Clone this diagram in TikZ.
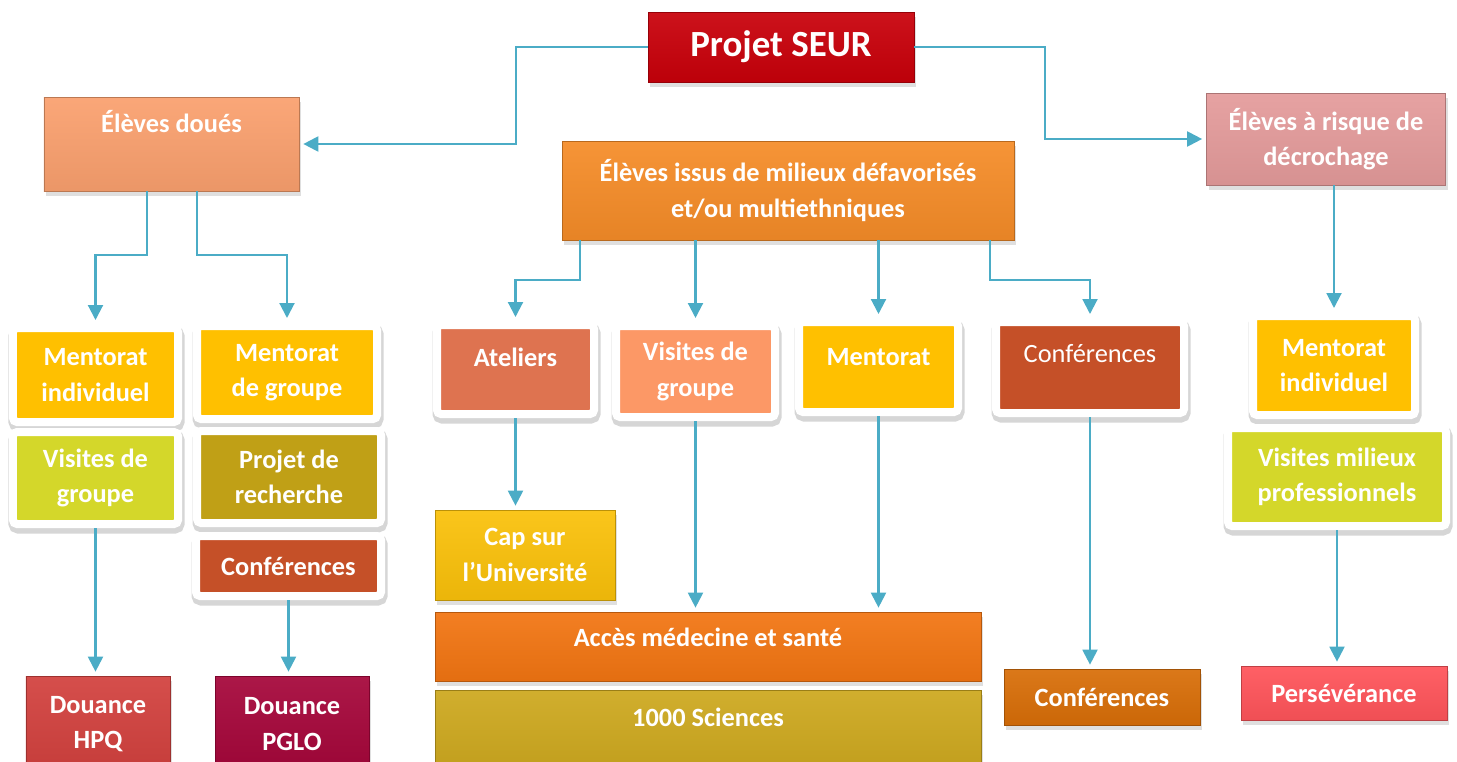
\documentclass[tikz,border=0pt]{standalone}
\usepackage{fontspec}
\setmainfont{Carlito}
\usepackage{tikz}
\usetikzlibrary{arrows.meta, shadows, positioning}

\definecolor{linkblue}{RGB}{75,172,198}
\definecolor{seurred}{RGB}{200,0,10}
\definecolor{douesorange}{RGB}{250,160,110}
\definecolor{issusorange}{RGB}{245,140,40}
\definecolor{risquepink}{RGB}{228,155,155}
\definecolor{mentgold}{RGB}{255,192,0}
\definecolor{visitlime}{RGB}{212,215,42}
\definecolor{projolive}{RGB}{192,160,22}
\definecolor{confrust}{RGB}{197,80,40}
\definecolor{atelcoral}{RGB}{222,115,80}
\definecolor{visitpeach}{RGB}{252,152,102}
\definecolor{capgold}{RGB}{250,193,10}
\definecolor{accesorange}{RGB}{242,117,18}
\definecolor{sciochre}{RGB}{205,168,30}
\definecolor{conforange}{RGB}{216,110,8}
\definecolor{persered}{RGB}{255,84,90}
\definecolor{hpqred}{RGB}{210,65,62}
\definecolor{pglowine}{RGB}{165,6,58}

\newcommand{\boxfont}{\fontsize{15}{20}\selectfont\bfseries}
\newcommand{\plainfont}{\fontsize{15}{20}\selectfont}
\newcommand{\titlefont}{\fontsize{21}{25}\selectfont\bfseries}

\tikzset{
bevel/.style={rectangle, inner sep=0pt, align=center, text=white, font=\boxfont, draw=#1!75!black, top color=#1!93!white, middle color=#1, bottom color=#1!94!black, drop shadow={opacity=0.25, shadow xshift=0.04cm, shadow yshift=-0.1cm}},
card/.style={rectangle, inner sep=0pt, align=center, text=white, font=\boxfont, fill=#1, draw=white, line width=0.16cm, rounded corners=0.08cm, preaction={draw=black!16, line width=0.22cm, transform canvas={xshift=0.02cm, yshift=-0.08cm}}}
}
\tikzstyle{arrow} = [line width=1.2pt, draw=linkblue, ->, >={Triangle[width=8.5pt,length=8.5pt]}, shorten >=0.08cm]

\begin{document}
\begin{tikzpicture}[node distance=2cm]
	\useasboundingbox (0,0) rectangle (29.14,-15.24);
	\clip (0,0) rectangle (29.14,-15.24);

	\node (seur) [bevel=seurred, minimum width=5.32cm, minimum height=1.40cm, font=\titlefont] at (15.62,-0.94) {Projet SEUR};
	\node (issus) [bevel=issusorange, minimum width=9.04cm, minimum height=1.98cm, below of=seur, xshift=0.14cm, yshift=-0.87cm] {Élèves issus de milieux défavorisés\\et/ou multiethniques};
	\node (doues) [bevel=douesorange, minimum width=5.10cm, text height=0.70cm, text depth=1.18cm, below of=seur, xshift=-12.19cm, yshift=0.06cm] {Élèves doués};
	\node (risque) [bevel=risquepink, minimum width=4.78cm, minimum height=1.84cm, below of=seur, xshift=10.9cm, yshift=0.16cm] {Élèves à risque de\\décrochage};

	% gifted students
	\node (mi1) [card=mentgold, minimum width=3.30cm, minimum height=1.88cm, below of=doues, xshift=-1.52cm, yshift=-2.62cm] {Mentorat\\individuel};
	\node (vg1) [card=visitlime, minimum width=3.30cm, minimum height=1.84cm, below of=mi1, yshift=-0.06cm] {Visites de\\groupe};
	\node (mg) [card=mentgold, minimum width=3.60cm, minimum height=1.86cm, right of=mi1, xshift=1.83cm, yshift=0.05cm] {Mentorat\\de groupe};
	\node (pr) [card=projolive, minimum width=3.68cm, minimum height=1.84cm, below of=mg, xshift=0.04cm, yshift=-0.09cm] {Projet de\\recherche};
	\node (conf1) [card=confrust, minimum width=3.70cm, minimum height=1.20cm, below of=pr, xshift=-0.01cm, yshift=0.22cm] {Conférences};
	\node (hpq) [bevel=hpqred, minimum width=2.88cm, minimum height=1.92cm, below of=vg1, xshift=0.05cm, yshift=-2.92cm] {Douance\\HPQ};
	\node (pglo) [bevel=pglowine, minimum width=3.08cm, minimum height=1.92cm, right of=hpq, xshift=1.88cm] {Douance\\PGLO};

	% disadvantaged students
	\node (atel) [card=atelcoral, minimum width=3.14cm, text height=0.82cm, text depth=0.96cm, below of=issus, xshift=-5.45cm, yshift=-1.58cm] {Ateliers};
	\node (vg2) [card=visitpeach, minimum width=3.18cm, minimum height=1.82cm, right of=atel, xshift=1.6cm, yshift=-0.04cm] {Visites de\\groupe};
	\node (ment) [card=mentgold, minimum width=3.18cm, text height=0.86cm, text depth=0.94cm, right of=vg2, xshift=1.66cm, yshift=0.09cm] {Mentorat};
	\node (conf2) [card=confrust, minimum width=3.76cm, text height=0.80cm, text depth=1.02cm, font=\plainfont, right of=ment, xshift=2.23cm, yshift=-0.01cm] {Conférences};
	\node (cap) [bevel=capgold, minimum width=3.60cm, minimum height=1.80cm, below of=atel, xshift=0.19cm, yshift=-1.71cm] {Cap sur\\l’Université};
	\node (acces) [bevel=accesorange, minimum width=10.92cm, text height=0.68cm, text depth=0.70cm, below of=vg2, xshift=0.25cm, yshift=-3.5cm] {Accès médecine et santé};
	\node (sci) [bevel=sciochre, minimum width=10.92cm, text height=0.72cm, text depth=0.98cm, below of=acces, yshift=0.28cm] {1000 Sciences};
	\node (conf3) [bevel=conforange, minimum width=3.92cm, minimum height=1.12cm, below of=conf2, xshift=0.24cm, yshift=-4.59cm] {Conférences};

	% students at risk
	\node (mi2) [card=mentgold, minimum width=3.24cm, minimum height=1.98cm, below of=risque, xshift=0.16cm, yshift=-2.53cm] {Mentorat\\individuel};
	\node (vmp) [card=visitlime, minimum width=4.36cm, minimum height=1.96cm, below of=mi2, xshift=0.06cm, yshift=-0.23cm] {Visites milieux\\professionnels};
	\node (perse) [bevel=persered, minimum width=4.12cm, minimum height=1.08cm, below of=vmp, xshift=0.14cm, yshift=-2.32cm] {Persévérance};

	\draw [arrow] (seur.west) -- ++(-2.64,0) |- (doues.east);
	\draw [arrow] (seur.east) -- ++(2.62,0) |- (risque.west);

	\draw [arrow] ([xshift=-0.49cm]doues.south) -- ++(0,-1.28) -| (mi1.north);
	\draw [arrow] ([xshift=0.51cm]doues.south) -- ++(0,-1.28) -| (mg.north);
	\draw [arrow] (vg1.south) -- (vg1.south |- hpq.north);
	\draw [arrow] (conf1.south) -- (conf1.south |- pglo.north);

	\draw [arrow] ([xshift=-4.16cm]issus.south) -- ++(0,-0.8) -| (atel.north);
	\draw [arrow] (vg2.north |- issus.south) -- (vg2.north);
	\draw [arrow] (ment.north |- issus.south) -- (ment.north);
	\draw [arrow] ([xshift=4.04cm]issus.south) -- ++(0,-0.8) -| (conf2.north);
	\draw [arrow] (atel.south) -- (atel.south |- cap.north);
	\draw [arrow] (vg2.south) -- (vg2.south |- acces.north);
	\draw [arrow] (ment.south) -- (ment.south |- acces.north);
	\draw [arrow] (conf2.south) -- (conf2.south |- conf3.north);

	\draw [arrow] (mi2.north |- risque.south) -- (mi2.north);
	\draw [arrow] (vmp.south) -- (vmp.south |- perse.north);

\end{tikzpicture}
\end{document}
